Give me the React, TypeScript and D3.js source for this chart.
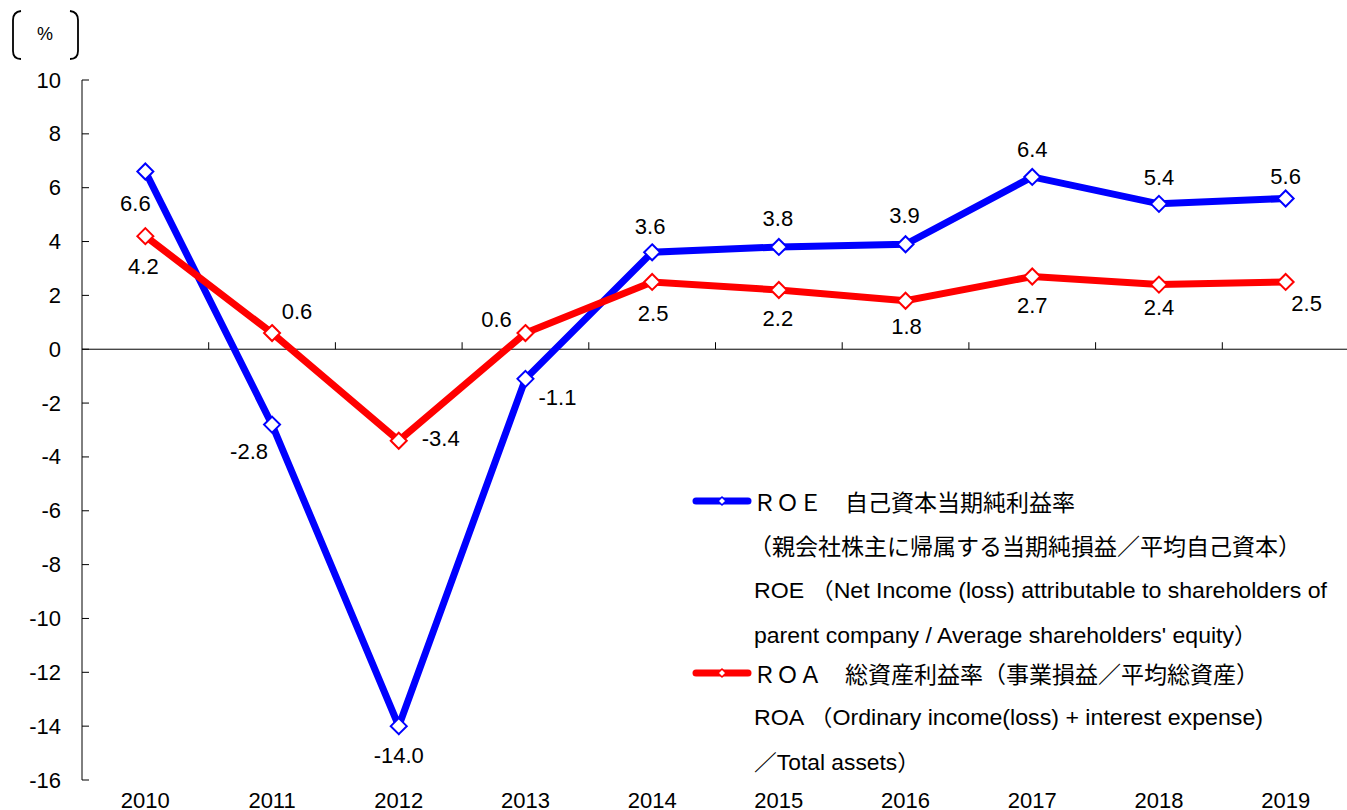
import React from "react";
import * as d3 from "d3";

const years = ["2010", "2011", "2012", "2013", "2014", "2015", "2016", "2017", "2018", "2019"];
const roeValues = [6.6, -2.8, -14.0, -1.1, 3.6, 3.8, 3.9, 6.4, 5.4, 5.6];
const roaValues = [4.2, 0.6, -3.4, 0.6, 2.5, 2.2, 1.8, 2.7, 2.4, 2.5];
const yTicks = [10, 8, 6, 4, 2, 0, -2, -4, -6, -8, -10, -12, -14, -16];

// label placement offsets (layout only)
const roeLabelOffsets: [number, number][] = [
  [-10, 32], [-23, 27], [0, 29], [32, 19], [-2, -26], [-1, -28], [-1, -29], [0, -27], [0, -26], [0, -22],
];
const roaLabelOffsets: [number, number][] = [
  [-2, 30], [25, -22], [42, -2], [-29, -14], [1, 32], [-1, 28], [1, 26], [0, 29], [0, 23], [21, 22],
];

const W = 1347;
const H = 810;
const margin = { left: 82, right: 1349, top: 80, bottom: 780 };

const BLUE = "#0000FF";
const RED = "#FF0000";
const LATIN = "'Liberation Sans', Arial, 'Noto Sans CJK JP', sans-serif";
const CJK = "'Noto Sans CJK JP', 'Liberation Sans', sans-serif";
const FS = 22;

function Diamond({ x, y, r, color, sw }: { x: number; y: number; r: number; color: string; sw: number }) {
  const p = `M${x},${y - r}L${x + r},${y}L${x},${y + r}L${x - r},${y}Z`;
  return <path d={p} fill="#fff" stroke={color} strokeWidth={sw} />;
}

export default function App() {
  const x = d3.scaleBand<string>().domain(years).range([margin.left, margin.right]).padding(0);
  const y = d3.scaleLinear().domain([-16, 10]).range([margin.bottom, margin.top]);
  const cx = (yr: string) => (x(yr) as number) + x.bandwidth() / 2;

  const line = d3
    .line<number>()
    .x((_, i) => cx(years[i]))
    .y((d) => y(d));

  const series = [
    { values: roeValues, color: BLUE, offsets: roeLabelOffsets },
    { values: roaValues, color: RED, offsets: roaLabelOffsets },
  ];

  const y0 = y(0);

  return (
    <svg
      width={W}
      height={H}
      style={{ position: "absolute", left: 0, top: 0, background: "#fff" }}
      xmlns="http://www.w3.org/2000/svg"
    >
      <rect x={0} y={0} width={W} height={H} fill="#fff" />
      {/* unit bracket */}
      <path d="M21,11 Q13,12 13,20 L13,51 Q13,59 21,59" fill="none" stroke="#000" strokeWidth={1.8} />
      <path d="M70,11 Q78,12 78,20 L78,51 Q78,59 70,59" fill="none" stroke="#000" strokeWidth={1.8} />
      <text x={45} y={34} fontFamily={LATIN} fontSize={18} textAnchor="middle" dominantBaseline="central">
        %
      </text>

      {/* y axis */}
      <line x1={margin.left} x2={margin.left} y1={y(10)} y2={y(-16)} stroke="#000" strokeWidth={1} />
      {yTicks.map((t) => (
        <g key={t}>
          <line x1={margin.left} x2={margin.left + 7} y1={y(t)} y2={y(t)} stroke="#000" strokeWidth={1} />
          <text
            x={61}
            y={y(t)}
            fontFamily={LATIN}
            fontSize={FS}
            textAnchor="end"
            dominantBaseline="central"
            fill="#000"
          >
            {t}
          </text>
        </g>
      ))}

      {/* zero line with category ticks */}
      <line x1={margin.left} x2={W} y1={y0} y2={y0} stroke="#000" strokeWidth={1} />
      {years.map((yr) => (
        <line
          key={"t" + yr}
          x1={(x(yr) as number) + x.bandwidth()}
          x2={(x(yr) as number) + x.bandwidth()}
          y1={y0}
          y2={y0 - 7}
          stroke="#000"
          strokeWidth={1}
        />
      ))}

      {/* x labels */}
      {years.map((yr) => (
        <text key={"l" + yr} x={cx(yr)} y={808} fontFamily={LATIN} fontSize={FS} textAnchor="middle" fill="#000">
          {yr}
        </text>
      ))}

      {/* lines */}
      {series.map((s, si) => (
        <path
          key={"s" + si}
          d={line(s.values) as string}
          fill="none"
          stroke={s.color}
          strokeWidth={7}
          strokeLinejoin="miter"
        />
      ))}
      {series.map((s, si) =>
        s.values.map((v, i) => (
          <Diamond key={`m${si}-${i}`} x={cx(years[i])} y={y(v)} r={8} color={s.color} sw={2} />
        ))
      )}

      {/* data labels */}
      {series.map((s, si) =>
        s.values.map((v, i) => (
          <text
            key={`d${si}-${i}`}
            x={cx(years[i]) + s.offsets[i][0]}
            y={y(v) + s.offsets[i][1]}
            fontFamily={LATIN}
            fontSize={FS}
            textAnchor="middle"
            dominantBaseline="central"
            fill="#000"
          >
            {v.toFixed(1)}
          </text>
        ))
      )}

      {/* legend */}
      <g>
        <line x1={696} x2={748} y1={501} y2={501} stroke={BLUE} strokeWidth={7} strokeLinecap="round" />
        <Diamond x={722} y={501} r={4} color={BLUE} sw={1.5} />
        <text x={753} y={501} fontFamily={CJK} fontSize={23} dominantBaseline="central" fill="#000">
          ＲＯＥ　自己資本当期純利益率
        </text>
        <text x={749} y={545} fontFamily={CJK} fontSize={23} dominantBaseline="central" fill="#000">
          （親会社株主に帰属する当期純損益／平均自己資本）
        </text>
        <text
          x={754}
          y={590}
          fontFamily={LATIN}
          fontSize={22}
          dominantBaseline="central"
          fill="#000"
          textLength={573}
          lengthAdjust="spacingAndGlyphs"
        >
          ROE （Net Income (loss) attributable to shareholders of
        </text>
        <text
          x={754}
          y={635}
          fontFamily={LATIN}
          fontSize={22}
          dominantBaseline="central"
          fill="#000"
          textLength={503}
          lengthAdjust="spacingAndGlyphs"
        >
          parent company / Average shareholders' equity）
        </text>
        <line x1={696} x2={748} y1={673} y2={673} stroke={RED} strokeWidth={7} strokeLinecap="round" />
        <Diamond x={722} y={673} r={4} color={RED} sw={1.5} />
        <text x={753} y={673} fontFamily={CJK} fontSize={23} dominantBaseline="central" fill="#000">
          ＲＯＡ　総資産利益率（事業損益／平均総資産）
        </text>
        <text
          x={754}
          y={717}
          fontFamily={LATIN}
          fontSize={22}
          dominantBaseline="central"
          fill="#000"
          textLength={509}
          lengthAdjust="spacingAndGlyphs"
        >
          ROA （Ordinary income(loss) + interest expense)
        </text>
        <text
          x={754}
          y={762}
          fontFamily={LATIN}
          fontSize={22}
          dominantBaseline="central"
          fill="#000"
          textLength={166}
          lengthAdjust="spacingAndGlyphs"
        >
          ／Total assets）
        </text>
      </g>
    </svg>
  );
}
